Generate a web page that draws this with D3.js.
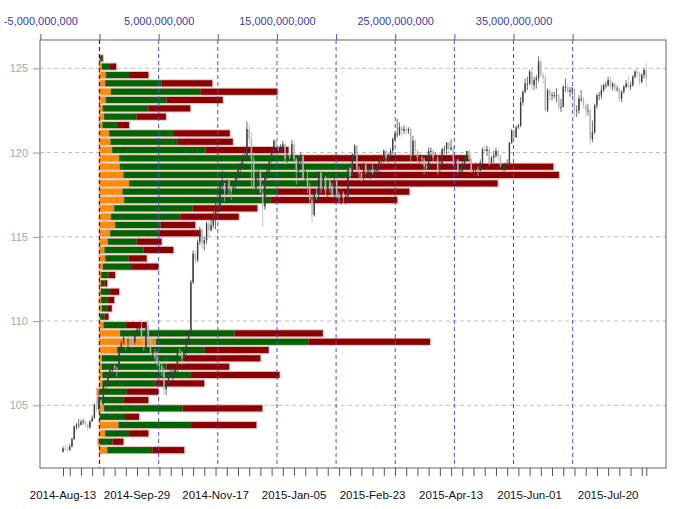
<!DOCTYPE html>
<html><head><meta charset="utf-8">
<script src="https://cdn.jsdelivr.net/npm/d3@7"></script>
<style>
body{margin:0;background:#fff}
svg{display:block}
text{font-family:"Liberation Sans",Arial,sans-serif}
</style>
</head><body><svg id="c" width="680" height="509"></svg>
<script>
// ---- volume-at-price bins (price level centres) ----
const binPrices = [125.59,125.10,124.60,124.11,123.61,123.12,122.62,122.13,121.63,121.14,120.64,120.15,119.66,119.16,118.67,118.17,117.68,117.18,116.69,116.19,115.70,115.21,114.71,114.22,113.72,113.23,112.73,112.24,111.74,111.25,110.75,110.26,109.76,109.27,108.77,108.28,107.79,107.29,106.80,106.30,105.81,105.31,104.82,104.32,103.83,103.33,102.84,102.34];
// volumes in billions
const volOrange = [0.05,0.20,0.53,0.48,0.96,0.53,0.28,0.39,0.25,0.81,0.93,1.07,1.66,1.71,2.02,2.50,1.94,2.08,1.24,0.96,1.32,0.90,0.70,0.42,0.48,0.28,0.14,0.11,0.11,0.14,0.20,0.06,0.34,1.74,4.78,1.49,0.20,0.20,0.25,0.25,-0.22,-0.20,0.39,0.03,1.60,0.48,-0.14,0.65];
const volGreen  = [0.20,0.62,1.97,4.78,7.56,5.14,3.85,2.75,1.24,5.48,5.65,7.89,15.62,19.59,19.15,16.93,13.09,12.39,6.63,5.87,3.85,4.21,2.45,3.29,1.96,2.47,0.62,0.31,0.79,0.56,0.45,0.36,1.91,9.69,12.89,7.41,6.88,5.47,7.47,4.50,2.30,2.02,6.63,2.13,6.12,2.10,1.10,3.82];
const volRed    = [0.05,0.59,1.63,4.27,6.52,4.75,3.54,2.47,1.01,4.72,4.69,7.02,14.04,17.06,17.67,14.23,11.16,10.70,5.47,4.94,2.92,3.43,2.10,2.53,1.55,2.22,0.56,0.23,0.76,0.54,0.39,0.34,1.74,7.45,10.27,5.40,6.52,5.29,7.50,4.10,2.67,2.11,6.74,1.18,5.54,1.55,0.92,2.69];

// ---- daily OHLC ----
const firstDate = "2014-08-13";
const opens = [
102.25,102.45,102.40,
102.35,102.55,103.00,103.75,103.85,
103.85,104.00,104.05,103.85,103.70,
104.05,104.25,105.05,104.75,105.30,
105.05,106.20,106.30,106.75,107.10,
107.35,107.20,107.15,108.40,108.70,
109.00,108.80,108.85,108.80,108.75,
109.30,109.50,109.65,108.90,108.50,
109.75,108.80,108.10,108.15,107.85,
107.60,107.35,107.00,105.95,106.30,
106.90,106.95,106.95,107.10,108.20,
108.15,107.80,108.15,108.90,109.20,
112.30,114.00,113.60,114.70,115.40,
114.60,114.80,115.80,115.40,115.70,
116.30,116.60,116.70,118.20,118.20,
117.70,118.30,117.90,117.70,118.20,
118.60,119.00,119.20,119.80,119.80,
121.40,120.80,119.60,117.90,118.70,
118.80,117.60,116.80,118.60,118.90,
119.50,120.10,120.70,120.40,120.30,
120.30,120.50,119.60,119.80,119.70,
120.50,119.60,118.90,119.50,119.80,
118.50,118.50,117.90,117.20,116.30,
117.60,117.50,118.80,117.90,118.50,
117.70,118.30,117.90,117.50,118.30,
117.50,117.30,117.60,117.30,117.40,
119.10,118.60,119.90,120.40,119.00,
118.80,118.50,119.30,118.90,119.00,
119.00,118.80,118.90,119.10,119.60,
119.60,120.10,119.70,119.80,120.10,
120.80,121.10,121.10,121.50,121.30,
121.40,121.30,121.40,119.80,120.70,
120.10,119.70,119.70,119.60,119.20,
119.10,120.10,120.10,119.70,119.70,
119.00,119.30,120.20,120.20,120.60,
120.20,120.30,119.30,119.60,118.90,
118.90,119.20,119.70,120.10,119.60,
118.90,119.00,119.00,118.90,119.40,
120.20,120.10,120.20,119.40,119.70,
119.80,120.10,119.80,119.20,119.20,
119.30,119.30,120.60,121.30,120.90,
121.50,121.60,123.00,123.60,124.10,
124.10,124.80,124.00,124.30,124.40,
125.40,124.60,124.40,122.50,123.70,
123.40,123.40,123.40,123.40,122.70,
122.70,123.90,123.90,123.60,123.70,
123.80,122.50,122.50,123.20,123.20,
122.80,122.50,122.50,120.80,121.20,
122.80,123.40,123.40,123.70,124.00,
124.00,124.30,123.90,124.10,123.80,
123.80,123.20,123.60,123.90,124.10,
123.90,124.00,124.50,124.80,124.70,
124.20,124.60,124.90];
const highs = [
102.55,102.65,102.60,
102.70,103.10,103.80,103.95,104.20,
104.15,104.20,104.10,103.90,104.10,
104.40,105.10,105.20,105.70,105.40,
106.35,106.50,106.85,107.20,107.40,
107.40,107.30,108.50,108.85,109.45,
109.10,109.00,109.15,109.10,109.40,
109.60,109.85,110.10,109.10,109.80,
109.90,109.00,108.30,108.35,108.20,
107.65,107.45,107.25,106.40,107.00,
107.40,107.35,107.35,108.35,108.40,
108.25,108.30,109.00,109.45,112.45,
114.20,114.20,114.85,115.60,115.55,
115.00,115.90,115.90,116.20,116.50,
117.05,116.90,118.20,118.95,118.20,
118.40,118.40,118.00,118.30,118.75,
119.10,119.40,119.90,120.20,121.85,
121.70,121.20,120.00,118.90,119.00,
119.00,118.10,118.70,119.30,119.60,
120.30,120.80,120.75,120.45,120.50,
120.70,120.55,120.20,119.90,120.75,
120.70,119.70,119.70,120.00,119.90,
119.00,119.00,118.20,117.50,117.70,
117.90,118.90,118.90,118.85,118.60,
118.40,118.50,118.20,118.50,118.50,
117.70,117.60,117.70,117.60,119.20,
119.10,119.95,120.50,120.45,119.20,
118.90,119.40,119.40,119.20,119.20,
119.40,119.20,119.30,119.70,119.80,
120.20,120.20,120.00,120.25,120.90,
121.20,122.00,121.80,121.60,121.60,
121.60,121.50,121.50,121.00,120.80,
120.20,119.90,119.80,119.70,119.40,
120.30,120.30,120.20,120.00,119.80,
119.50,120.30,120.40,120.60,120.60,
120.80,120.40,119.80,119.60,119.20,
119.50,119.80,120.10,120.20,119.70,
119.30,119.40,119.20,119.60,120.30,
120.40,120.40,120.30,119.80,120.10,
120.30,120.20,119.90,119.30,119.40,
119.60,120.60,121.40,121.40,121.60,
121.70,123.30,123.70,124.40,124.50,
124.90,125.00,124.50,124.60,125.70,
125.50,124.80,124.60,123.80,123.80,
123.60,123.60,123.80,123.50,123.20,
124.00,124.40,124.10,123.90,123.90,
123.80,122.80,123.40,123.70,123.30,
122.90,122.90,122.60,121.90,122.90,
123.50,123.60,124.00,124.10,124.20,
124.50,124.50,124.20,124.10,124.00,
123.90,123.70,124.00,124.30,124.60,
124.20,124.60,124.90,125.00,124.80,
124.70,125.00,125.30];
const lows = [
102.20,102.30,102.20,
102.30,102.50,102.95,103.55,103.65,
103.80,103.85,103.70,103.50,103.60,
104.00,104.20,104.60,104.70,104.70,
105.00,105.90,106.10,106.60,106.90,
107.00,106.70,107.10,108.20,108.60,
108.30,108.40,108.70,108.40,108.60,
109.10,109.20,108.80,108.25,108.40,
108.70,108.00,107.70,107.50,107.30,
106.95,106.75,105.60,105.60,106.20,
106.60,106.45,106.80,106.95,107.90,
107.40,107.70,108.00,108.70,109.10,
112.20,113.40,113.50,114.50,114.30,
114.20,114.60,115.00,115.30,115.50,
115.45,116.30,116.50,117.90,117.10,
117.50,117.50,117.20,117.60,117.80,
118.40,118.60,119.10,119.60,119.60,
120.50,117.90,117.80,117.60,118.30,
117.60,115.60,116.60,118.40,118.70,
119.40,119.90,120.30,120.10,120.10,
120.00,119.30,119.40,119.60,119.60,
119.40,118.10,118.80,119.30,118.50,
118.20,117.60,116.90,115.85,116.20,
117.20,117.20,117.60,117.60,117.40,
117.20,117.60,117.30,117.40,117.30,
117.00,116.90,117.00,116.90,117.20,
118.40,118.50,119.60,118.95,118.50,
118.30,118.20,118.70,118.60,118.40,
118.70,118.60,118.70,118.80,119.20,
119.40,119.50,119.40,119.70,119.90,
120.70,120.90,121.00,120.90,121.10,
121.10,121.10,119.30,119.60,119.90,
119.50,119.40,119.30,118.70,118.90,
119.00,119.70,119.40,119.50,118.70,
118.80,119.20,119.90,119.90,120.00,
120.10,119.20,119.10,118.80,118.60,
118.80,119.00,119.50,119.40,118.80,
118.70,118.80,118.60,118.90,119.30,
119.90,119.80,119.20,119.20,119.40,
119.70,119.50,119.10,118.90,118.90,
119.10,119.20,120.50,120.70,120.90,
121.40,121.50,122.80,123.50,123.70,
124.00,123.70,123.70,123.80,124.20,
124.50,124.10,122.45,122.40,123.10,
123.10,123.20,123.00,122.50,122.40,
122.70,123.60,123.50,123.30,123.40,
122.10,122.10,122.30,123.00,122.60,
122.10,122.20,120.45,120.60,121.10,
122.60,123.10,123.20,123.60,123.80,
123.90,123.70,123.70,123.60,123.60,
123.00,123.00,123.50,123.80,123.80,
123.70,123.90,124.40,124.50,124.00,
124.10,124.40,123.90];
const closes = [
102.45,102.40,102.35,
102.55,103.00,103.75,103.85,103.85,
104.00,104.05,103.85,103.70,104.05,
104.25,105.05,104.75,105.30,105.05,
106.20,106.30,106.75,107.10,107.35,
107.20,107.15,108.40,108.70,109.00,
108.80,108.85,108.80,108.75,109.30,
109.50,109.65,108.90,108.50,109.75,
108.80,108.10,108.15,107.85,107.60,
107.35,107.00,105.95,106.30,106.90,
106.95,106.95,107.10,108.20,108.15,
107.80,108.15,108.90,109.20,112.30,
114.00,113.60,114.70,115.40,114.60,
114.80,115.80,115.40,115.70,116.30,
116.60,116.70,118.20,118.20,117.70,
118.30,117.90,117.70,118.20,118.60,
119.00,119.20,119.80,119.80,121.40,
120.80,119.60,117.90,118.70,118.80,
117.60,116.80,118.60,118.90,119.50,
120.10,120.70,120.40,120.30,120.30,
120.50,119.60,119.80,119.70,120.50,
119.60,118.90,119.50,119.80,118.50,
118.50,117.90,117.20,116.30,117.60,
117.50,118.80,117.90,118.50,117.70,
118.30,117.90,117.50,118.30,117.50,
117.30,117.60,117.30,117.40,119.10,
118.60,119.90,120.40,119.00,118.80,
118.50,119.30,118.90,119.00,119.00,
118.80,118.90,119.10,119.60,119.60,
120.10,119.70,119.80,120.10,120.80,
121.10,121.10,121.50,121.30,121.40,
121.30,121.40,119.80,120.70,120.10,
119.70,119.70,119.60,119.20,119.10,
120.10,120.10,119.70,119.70,119.00,
119.30,120.20,120.20,120.60,120.20,
120.30,119.30,119.60,118.90,118.90,
119.20,119.70,120.10,119.60,118.90,
119.00,119.00,118.90,119.40,120.20,
120.10,120.20,119.40,119.70,119.80,
120.10,119.80,119.20,119.20,119.30,
119.30,120.60,121.30,120.90,121.50,
121.60,123.00,123.60,124.10,124.10,
124.80,124.00,124.30,124.40,125.40,
124.60,124.40,122.50,123.70,123.40,
123.40,123.40,123.40,122.70,122.70,
123.90,123.90,123.60,123.70,123.80,
122.50,122.50,123.20,123.20,122.80,
122.50,122.50,120.80,121.20,122.80,
123.40,123.40,123.70,124.00,124.00,
124.30,123.90,124.10,123.80,123.80,
123.20,123.60,123.90,124.10,123.90,
124.00,124.50,124.80,124.70,124.20,
124.60,124.90,124.40];

// ---- axis labels ----
const dateLabels = ["2014-Aug-13","2014-Sep-29","2014-Nov-17","2015-Jan-05","2015-Feb-23","2015-Apr-13","2015-Jun-01","2015-Jul-20"];
const volTicks = [-5,0,5,10,15,20,25,30,35,40];
const volTickLabels = ["-5,000,000,000","","5,000,000,000","","15,000,000,000","","25,000,000,000","","35,000,000,000",""];
const priceTicks = [105,110,115,120,125];

// ---- layout ----
const L=40, R=666, T=40, B=468;
const svg = d3.select("#c");

// trading dates (weekdays) for each bar
const parse = d3.timeParse("%Y-%m-%d");
const dates = [];
{ let d = parse(firstDate); while (dates.length < closes.length) { const wd=d.getDay(); if (wd!==0 && wd!==6) dates.push(d); d = d3.timeDay.offset(d,1); } }
const fmtLabel = d3.timeFormat("%Y-%b-%d");

const xi = d3.scaleLinear().domain([-10.25, 268.8]).range([L,R]);
const xv = d3.scaleLinear().domain([-5.03, 47.89]).range([L,R]);
const y  = d3.scaleLinear().domain([101.28, 126.68]).range([B,T]);

svg.append("rect").attr("x",0).attr("y",0).attr("width",680).attr("height",509).attr("fill","#fff");

// horizontal grid
svg.append("g").selectAll("line").data(priceTicks).join("line")
  .attr("x1",L).attr("x2",R).attr("y1",d=>y(d)).attr("y2",d=>y(d))
  .attr("stroke","#bdbdbd").attr("stroke-dasharray","4,3").attr("stroke-width",1);

// volume profile bars
const bins = binPrices.map((p,i)=>({p, o:volOrange[i], g:volGreen[i], r:volRed[i]}));
const step = Math.abs(y(binPrices[0]) - y(binPrices[1]));
const bh = step*0.74;
const gBars = svg.append("g");
bins.forEach(b=>{
  const cy = y(b.p);
  const oStart = Math.min(0,b.o), oEnd = Math.max(0,b.o);
  const gStart = oEnd, gEnd = gStart + b.g;
  const rEnd = gEnd + b.r;
  gBars.append("rect").attr("x",xv(oStart)-1).attr("y",cy-bh/2-1)
    .attr("width",xv(rEnd)-xv(oStart)+2).attr("height",bh+2).attr("fill","#e8c3c3");
  gBars.append("rect").attr("x",xv(oStart)).attr("y",cy-bh/2).attr("width",xv(oEnd)-xv(oStart)).attr("height",bh).attr("fill","#ff8c00");
  gBars.append("rect").attr("x",xv(gStart)).attr("y",cy-bh/2).attr("width",xv(gEnd)-xv(gStart)).attr("height",bh).attr("fill","#006400");
  gBars.append("rect").attr("x",xv(gEnd)).attr("y",cy-bh/2).attr("width",xv(rEnd)-xv(gEnd)).attr("height",bh).attr("fill","#8b0000");
});

// vertical dashed lines at volume ticks
svg.append("g").selectAll("line").data(volTicks.filter(v=>v>0)).join("line")
  .attr("x1",d=>xv(d)).attr("x2",d=>xv(d)).attr("y1",T).attr("y2",B)
  .attr("stroke","#4f4fc6").attr("stroke-dasharray","4,3").attr("stroke-width",1);
svg.append("line").attr("x1",xv(0)).attr("x2",xv(0)).attr("y1",T).attr("y2",B)
  .attr("stroke","#8b0000").attr("stroke-dasharray","4,3").attr("stroke-width",1.2);

// candles
const gC = svg.append("g");
closes.forEach((c,i)=>{
  const o=opens[i], h=highs[i], l=lows[i];
  const up = c>=o;
  const col = up ? "#3c3c3c" : "#b4b4b4";
  const cx = xi(i);
  gC.append("line").attr("x1",cx).attr("x2",cx).attr("y1",y(h)).attr("y2",y(l))
    .attr("stroke",col).attr("stroke-width",0.75);
  const top = y(Math.max(o,c)), bot = y(Math.min(o,c));
  gC.append("rect").attr("x",cx-0.7).attr("width",1.4).attr("y",top).attr("height",Math.max(0.8,bot-top))
    .attr("fill",col);
});

// plot box
svg.append("rect").attr("x",L).attr("y",T).attr("width",R-L).attr("height",B-T)
  .attr("fill","none").attr("stroke","#666").attr("stroke-width",1);

// top axis
const axT = svg.append("g").attr("transform",`translate(0,${T})`)
  .call(d3.axisTop(xv).tickValues(volTicks).tickSize(6).tickPadding(9).tickFormat((d,i)=>volTickLabels[i]));
axT.select(".domain").remove();
axT.selectAll("line").attr("stroke","#4f4fc6");
axT.selectAll("text").attr("fill","#3b3ba6").style("font-size","11px").style("font-family","'Liberation Sans',Arial,sans-serif");

// left axis
const axL = svg.append("g").attr("transform",`translate(${L},0)`)
  .call(d3.axisLeft(y).tickValues(priceTicks).tickSize(7).tickPadding(5).tickFormat(d3.format("d")));
axL.select(".domain").remove();
axL.selectAll("line").attr("stroke","#999");
axL.selectAll("text").attr("fill","#a8a8a8").style("font-size","11px").style("font-family","'Liberation Sans',Arial,sans-serif");

// bottom axis: weekly ticks (Mondays) plus first & last bar
const tickIdx = dates.map((d,i)=>i).filter(i=> i===0 || i===dates.length-1 || dates[i].getDay()===1);
const axB = svg.append("g").attr("transform",`translate(0,${B})`)
  .call(d3.axisBottom(xi).tickValues(tickIdx).tickSize(8).tickFormat(""));
axB.select(".domain").remove();
axB.selectAll("line").attr("stroke","#555");

// bottom labels
const labIdx = dateLabels.map(s=> dates.findIndex(d=>fmtLabel(d)===s));
svg.append("g").selectAll("text").data(dateLabels).join("text")
  .attr("x",(d,i)=>xi(labIdx[i])).attr("y",499).attr("text-anchor","middle")
  .attr("fill","#111").style("font-size","11.5px").text(d=>d);
</script>
</body></html>
